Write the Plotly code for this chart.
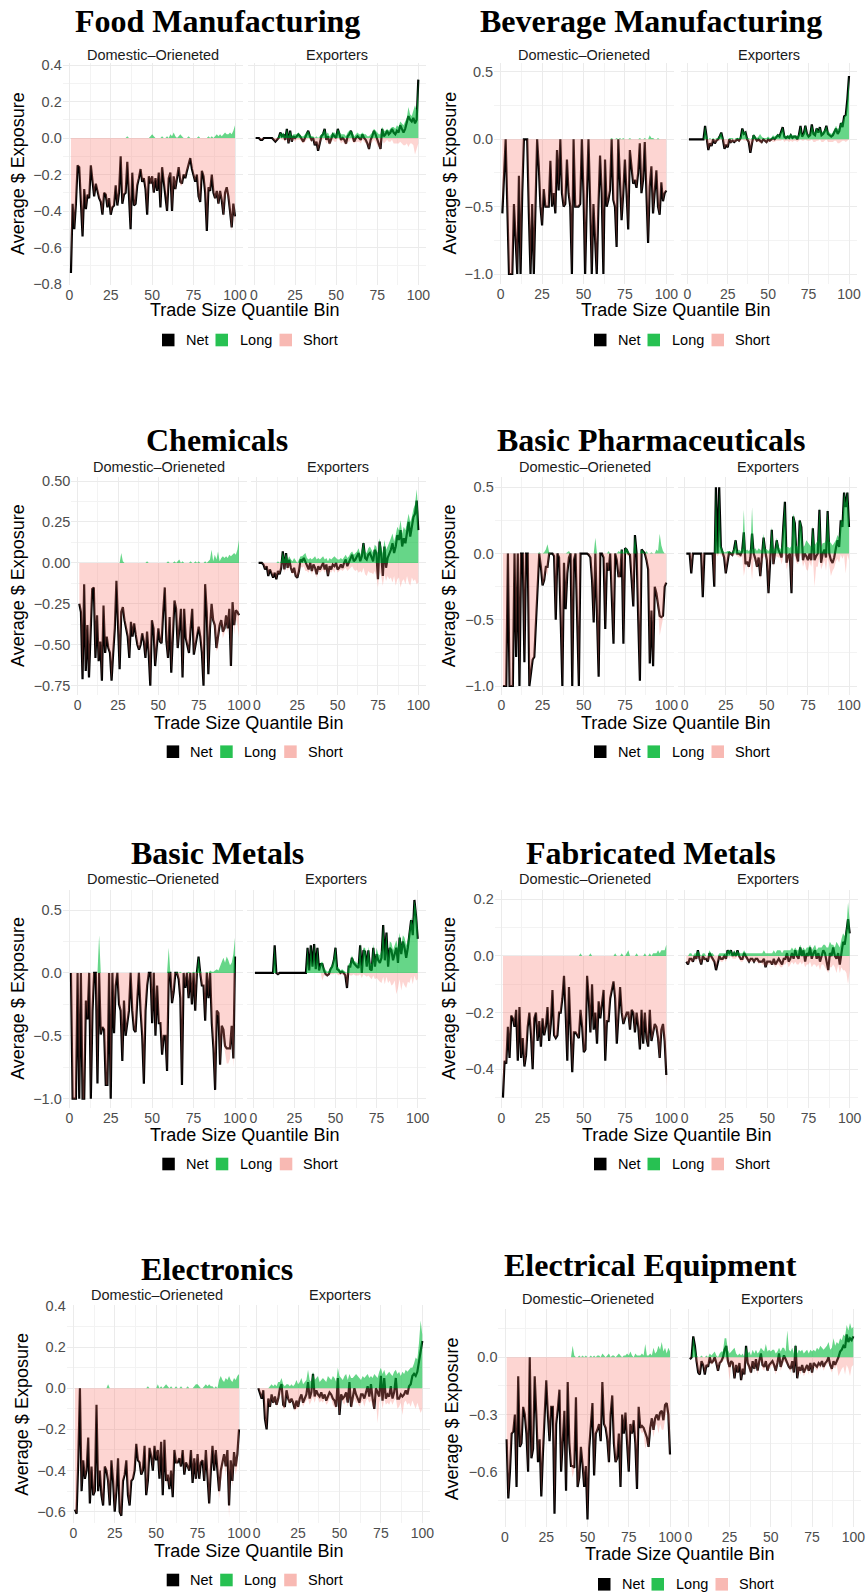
import plotly.graph_objects as go

W, H = 867, 1594
bins = list(range(1, 101))
x_ticks = [0, 25, 50, 75, 100]
panel_titles = ["Food Manufacturing", "Beverage Manufacturing", "Chemicals", "Basic Pharmaceuticals",
                "Basic Metals", "Fabricated Metals", "Electronics", "Electrical Equipment"]
facet_labels = ["Domestic\u2013Orieneted", "Exporters"]
series_names = ["Net", "Long", "Short"]
x_title = "Trade Size Quantile Bin"
y_title = "Average $ Exposure"

y_ticks = [
    [0.4, 0.2, 0.0, -0.2, -0.4, -0.6, -0.8],
    [0.5, 0.0, -0.5, -1.0],
    [0.50, 0.25, 0.00, -0.25, -0.50, -0.75],
    [0.5, 0.0, -0.5, -1.0],
    [0.5, 0.0, -0.5, -1.0],
    [0.2, 0.0, -0.2, -0.4],
    [0.4, 0.2, 0.0, -0.2, -0.4, -0.6],
    [0.0, -0.3, -0.6],
]
y_tick_fmt = [".1f", ".1f", ".2f", ".1f", ".1f", ".1f", ".1f", ".1f"]

# ---- data (values in hundredths of $ exposure) ----
food_dom_net = [-74,-36,-50,-36,-15,-16,-35,-54,-28,-39, -31,-33,-15,-22,-32,-25,-29,-33,-35,-42,
                -30,-31,-38,-33,-42,-38,-37,-26,-37,-30, -10,-36,-31,-30,-13,-33,-50,-19,-37,-36,
                -26,-22,-17,-24,-22,-28,-42,-21,-25,-21, -30,-22,-29,-19,-38,-16,-24,-30,-40,-22,
                -19,-40,-21,-28,-22,-16,-24,-25,-20,-22, -18,-15,-11,-17,-21,-24,-20,-32,-35,-18,
                -21,-30,-51,-27,-29,-20,-30,-33,-29,-36, -29,-34,-42,-30,-27,-32,-40,-49,-36,-43]
food_dom_long = [0,0,0,0,0,0,0,0,0,0, 0,0,0,0,0,0,0,0,0,0, 0,0,0,0,0,0,0,0,0,0,
                 0,0,0,0,1,0,0,0,0,0, 0,0,0,0,0,0,0,0,1,2, 1,0,0,0,0,1,0,0,1,0,
                 2,1,3,1,0,1,2,1,0,0, 0,1,0,0,0,0,0,1,0,0, 0,0,0,1,0,1,0,1,2,1,
                 2,1,2,3,2,2,3,2,4,7]
food_dom_short = [-74,-36,-50,-36,-15,-16,-35,-54,-28,-39, -31,-33,-15,-22,-32,-25,-29,-33,-35,-42,
                  -30,-31,-38,-33,-42,-38,-37,-26,-37,-30, -10,-36,-31,-30,-14,-33,-50,-19,-37,-36,
                  -26,-22,-17,-24,-22,-28,-42,-21,-26,-23, -31,-22,-29,-19,-38,-17,-24,-30,-41,-22,
                  -21,-41,-24,-29,-22,-17,-26,-26,-20,-22, -18,-16,-11,-17,-21,-24,-20,-33,-35,-18,
                  -21,-30,-51,-28,-29,-21,-30,-34,-31,-37, -31,-35,-44,-33,-30,-34,-43,-51,-40,-48]
food_exp_net = [0,0,0,-1,-1,0,0,0,0,0, 0,-1,-2,-1,0,3,1,2,-1,5, -3,4,-2,1,0,1,2,1,-1,-2,
                0,2,4,1,-1,0,-4,-2,-7,-3, 1,2,5,-1,1,-3,0,2,1,0, 5,2,-1,0,-1,-3,1,2,4,1,
                -2,0,1,0,-1,2,0,-1,-3,-6, -1,1,4,2,-1,-3,-6,5,1,2, 4,2,3,5,3,2,4,3,7,5,
                3,5,8,12,10,9,11,8,10,32]
food_exp_long = [0,0,0,0,0,0,0,0,0,0, 0,0,0,0,1,3,2,3,1,5, 1,4,1,2,2,2,3,2,1,1,
                 2,3,4,2,1,1,0,1,0,1, 2,3,5,2,3,1,2,3,3,2, 5,3,2,2,2,1,3,4,4,3,
                 1,2,3,2,2,3,2,2,1,1, 2,3,5,4,3,2,2,6,4,4, 5,4,5,6,6,5,7,6,9,8,
                 7,9,11,17,13,12,15,18,15,33]
food_exp_short = [0,0,0,-1,-1,0,0,0,0,0, 0,-1,-2,-1,-1,0,-1,-1,-2,0, -3,0,-2,-1,-2,-1,-1,-1,-2,-3,
                  -2,-1,0,-1,-2,-1,-4,-3,-7,-4, -1,-1,0,-3,-2,-4,-2,-1,-2,-2, 0,-1,-3,-2,-3,-4,-2,-2,0,-2,
                  -3,-2,-2,-2,-3,-1,-2,-3,-4,-7, -3,-2,-1,-2,-4,-5,-7,-1,-3,-2, -1,-2,-2,-1,-3,-3,-3,-3,-2,-3,
                  -4,-4,-3,-5,-3,-3,-4,-9,-6,-3]

bev_dom_net = [-55,-30,0,-50,-100,-100,-100,-48,-75,-100, -27,-100,-40,0,0,0,-55,-100,-48,-100,
               -50,0,-20,-50,-64,-37,-50,-50,-50,-16, -50,-40,-55,-8,-38,0,-40,-50,-48,-15,
               -40,-50,-100,0,-50,-50,-50,-48,0,-40, -100,-45,0,-45,-100,-48,-70,-100,-50,-12,
               -40,-100,-15,-50,-45,-38,0,-45,-50,-80, 0,-25,-60,-40,-15,-40,-67,-8,-20,-33,
               -30,-36,-25,-3,-40,-30,-2,-40,-77,-35, -20,-55,-40,-23,-50,-56,-32,-46,-40,-38]
bev_dom_long = [0,0,0,0,0,0,0,0,0,0, 0,0,0,0,0,0,0,0,0,0, 0,0,0,0,0,0,0,0,0,0,
                0,0,0,0,0,0,0,0,0,0, 0,0,0,0,0,0,0,0,0,0, 0,0,0,0,0,0,0,0,0,0,
                0,0,0,0,0,0,1,0,0,1, 0,1,0,1,0,0,0,1,0,0, 0,0,0,1,0,0,1,0,0,3,
                1,1,0,0,1,0,0,0,0,0]
bev_dom_short = [-55,-30,0,-50,-100,-100,-100,-48,-75,-100, -27,-100,-40,0,0,0,-55,-100,-48,-100,
                 -50,0,-20,-50,-64,-37,-50,-50,-50,-16, -50,-40,-55,-8,-38,0,-40,-50,-48,-15,
                 -40,-50,-100,0,-50,-50,-50,-48,0,-40, -100,-45,0,-45,-100,-48,-70,-100,-50,-12,
                 -40,-100,-15,-50,-45,-38,-1,-45,-50,-81, 0,-26,-60,-41,-15,-40,-67,-9,-20,-33,
                 -30,-36,-25,-4,-40,-30,-3,-40,-77,-38, -21,-56,-40,-23,-51,-56,-32,-46,-40,-38]
bev_exp_net = [0,0,0,0,0,0,0,0,0,0, 10,2,-8,-3,-5,0,-3,-1,0,2, 5,0,-7,-4,-6,0,-2,-1,-2,-1,
               0,-1,1,8,4,5,0,-2,-10,-3, 3,1,-1,0,-1,-2,0,-1,-2,0, -1,0,1,0,2,3,2,5,9,2,
               1,2,1,3,1,2,2,0,3,10, 2,4,10,4,2,3,11,4,3,8, 5,9,3,4,6,10,4,3,2,3,
               5,8,4,6,12,9,17,18,30,47]
bev_exp_long = [0,0,0,0,0,0,0,0,0,0, 10,3,0,1,0,1,0,1,1,3, 5,1,0,0,0,1,1,1,0,1,
                1,1,2,8,5,6,1,1,0,1, 4,2,1,2,4,2,1,1,1,2, 1,1,3,2,3,4,3,6,9,4,
                2,3,3,4,3,3,3,2,4,10, 3,5,11,5,3,4,11,6,5,9, 6,9,5,6,7,10,6,5,4,5,
                7,10,7,9,13,12,17,18,30,47]
bev_exp_short = [0,0,0,0,0,0,0,0,0,0, 0,-1,-8,-4,-5,-1,-3,-2,-1,-1, 0,-1,-7,-4,-6,-1,-3,-2,-2,-2,
                 -1,-2,-1,0,-1,-1,-1,-3,-10,-4, -1,-1,-2,-2,-3,-3,-1,-2,-3,-2, -2,-1,-2,-2,-1,-1,-1,-1,0,-2,
                 -1,-1,-2,-1,-2,-1,-1,-2,-1,0, -1,-1,0,-1,-1,-1,0,-2,-2,-1, -1,0,-2,-2,-1,0,-2,-2,-2,-2,
                 -1,-1,-3,-3,-2,-1,-1,-2,-1,0]

chem_dom_net = [-25,-30,-71,-13,-66,-38,-70,-35,-16,-15, -58,-32,-60,-48,-72,-26,-55,-45,-52,-55,
                -72,-55,-40,-11,-40,-65,-30,-27,-35,-40, -45,-58,-36,-45,-37,-44,-50,-53,-50,-43,
                -48,-58,-42,-55,-75,-35,-40,-63,-50,-40, -48,-49,-30,-15,-48,-58,-33,-67,-45,-23,
                -28,-52,-40,-28,-70,-28,-46,-50,-55,-40, -28,-56,-50,-43,-39,-45,-55,-75,-13,-30,
                -68,-40,-25,-35,-38,-52,-45,-38,-35,-42, -40,-32,-40,-28,-63,-24,-38,-29,-30,-32]
chem_dom_long = [0,0,0,0,0,0,0,0,0,0, 0,0,0,0,0,0,0,0,0,0, 0,0,0,0,0,0,6,1,0,0,
                 0,0,0,0,0,0,0,0,0,0, 0,0,1,0,0,0,0,0,0,0, 0,0,0,0,0,1,0,0,0,1,
                 0,1,2,0,1,0,0,0,0,1, 0,0,1,0,1,0,0,0,1,0, 1,2,8,1,5,2,7,1,3,4,
                 3,4,3,5,4,5,6,5,8,14]
chem_dom_short = [-25,-30,-71,-13,-66,-38,-70,-35,-16,-15, -58,-32,-60,-48,-72,-26,-55,-45,-52,-55,
                  -72,-55,-40,-11,-40,-65,-36,-28,-35,-40, -45,-58,-36,-45,-37,-44,-50,-53,-50,-43,
                  -48,-58,-43,-55,-75,-35,-40,-63,-50,-40, -48,-49,-30,-15,-48,-59,-33,-67,-45,-24,
                  -28,-53,-42,-28,-71,-28,-46,-50,-55,-41, -28,-56,-51,-43,-40,-45,-55,-75,-14,-30,
                  -69,-42,-33,-36,-43,-54,-52,-39,-38,-46, -43,-36,-43,-33,-67,-29,-44,-34,-38,-46]
chem_exp_net = [0,0,0,-1,-4,-2,-8,-4,-6,-9, -6,-10,-5,-7,-3,7,-4,6,-3,2, -3,-6,-3,-8,-9,-5,2,1,3,1,
                -2,-4,0,-5,-1,-3,-7,-2,-4,-2, 0,-4,-1,-8,-2,-4,-1,-2,0,-4, -3,-1,-3,0,2,-2,0,3,5,1,
                2,4,6,1,4,12,3,2,5,6, 4,1,8,6,-10,13,5,-8,10,-3, 3,5,8,12,6,10,17,14,20,10,
                15,12,20,25,16,22,28,30,38,20]
chem_exp_long = [0,0,0,0,0,0,0,0,0,0, 0,0,1,0,1,7,2,6,2,4, 2,1,3,1,0,2,4,4,5,6,
                 3,2,3,2,3,4,2,3,2,3, 4,2,3,1,3,2,3,4,3,2, 2,3,2,4,5,3,4,6,7,5,
                 6,7,9,5,8,13,7,6,9,10, 8,6,11,10,5,15,10,6,14,8, 10,12,15,18,13,17,22,20,26,18,
                 22,20,26,30,25,28,33,36,45,30]
chem_exp_short = [0,0,0,-1,-4,-2,-8,-4,-6,-9, -6,-10,-6,-7,-4,0,-6,0,-5,-2, -5,-7,-6,-9,-9,-7,-2,-3,-2,-5,
                  -5,-6,-3,-7,-4,-7,-9,-5,-6,-5, -4,-6,-4,-9,-5,-6,-4,-6,-3,-6, -5,-4,-5,-4,-3,-5,-4,-3,-2,-4,
                  -5,-4,-6,-5,-6,-3,-7,-8,-5,-6, -6,-7,-5,-8,-15,-5,-8,-14,-7,-11, -8,-10,-9,-12,-8,-14,-10,-9,-15,-11,
                  -10,-13,-8,-12,-14,-9,-11,-10,-13,-12]

pharma_dom_net = [-100,-100,-100,0,-100,-100,-100,0,-78,0, -100,0,0,-82,0,0,-100,-90,-80,-78,
                  -50,-25,0,-10,-24,-20,-10,-10,0,0, 0,-2,-50,0,-3,-50,-100,-7,-42,-15,
                  -3,0,-100,-5,0,-50,-100,0,0,0, 0,0,-1,-3,-20,-52,0,-45,-93,0,
                  0,-3,-57,-7,-13,0,-35,-68,0,-5, -17,-17,3,-68,4,3,0,-1,-20,-40,
                  14,0,-50,-96,3,1,0,-5,-12,-83, -43,-85,-25,-30,-40,-47,-48,-47,-25,-22]
pharma_dom_long = [0,0,0,0,0,0,0,0,0,0, 0,0,0,0,0,0,0,0,0,0, 0,0,1,0,0,1,3,7,1,0,
                   0,0,0,0,0,0,0,0,0,1, 2,0,0,0,0,0,0,0,0,0, 0,0,0,0,0,0,12,0,0,0,
                   0,0,0,0,2,0,0,0,0,0, 2,1,3,0,4,4,2,0,0,0, 14,0,0,0,3,2,0,2,0,0,
                   1,0,0,3,2,15,6,2,0,0]
pharma_dom_short = [-100,-100,-100,0,-100,-100,-100,0,-78,0, -100,0,0,-82,0,0,-100,-90,-80,-78,
                    -50,-25,-1,-10,-24,-21,-13,-17,-1,0, 0,-2,-50,0,-3,-50,-100,-7,-42,-16,
                    -5,0,-100,-5,0,-50,-100,0,0,0, 0,0,-1,-3,-20,-52,-12,-45,-93,0,
                    0,-3,-57,-7,-15,0,-35,-68,0,-5, -19,-18,0,-68,0,-1,-2,-1,-20,-40,
                    0,0,-50,-96,0,-1,0,-7,-12,-83, -43,-85,-25,-33,-42,-62,-54,-49,-25,-22]
pharma_exp_net = [0,0,0,-15,0,0,0,0,0,0, -33,0,0,0,0,0,0,-25,50,0, 50,5,1,-3,-15,-5,1,0,-1,3,
                  10,0,0,-1,2,16,-8,-6,-10,-3, 15,0,-4,-10,-3,-17,-5,12,2,-5, -30,-2,18,-8,0,10,3,0,-3,20,
                  39,-7,-2,0,-30,28,23,-1,-6,25, 20,-5,0,-2,-5,0,-5,19,-5,-2, 0,33,-7,0,3,-3,32,0,-5,-7,
                  -3,4,10,5,25,20,46,35,46,20]
pharma_exp_long = [0,0,0,0,0,0,0,0,0,0, 0,0,0,0,0,0,0,0,50,2, 50,6,3,1,1,2,2,1,1,4,
                   11,2,3,2,4,33,2,3,2,3, 35,3,4,2,4,3,2,15,4,3, 2,4,20,4,3,12,6,3,5,22,
                   40,5,5,4,6,30,25,6,5,26, 22,5,6,10,8,6,5,21,6,8, 10,35,5,8,8,10,34,9,8,6,
                   8,10,14,12,26,24,47,38,47,25]
pharma_exp_short = [0,0,0,-15,0,0,0,0,0,0, -33,0,0,0,0,0,0,-25,0,-2, 0,-1,-2,-4,-16,-7,-1,-1,-2,-1,
                    -1,-2,-3,-3,-2,-17,-10,-8,-12,-6, -20,-3,-8,-12,-7,-20,-7,-3,-2,-8, -32,-6,-2,-10,-3,-2,-3,-3,-8,-2,
                    -1,-12,-7,-4,-31,-2,-2,-7,-8,-1, -2,-10,-6,-12,-13,-6,-10,-2,-25,-10, -10,-2,-12,-8,-5,-13,-2,-9,-17,-13,
                    -11,-6,-4,-7,-1,-4,-1,-15,-1,-5]

bm_dom_net = [0,-100,-100,-100,0,-100,0,-100,-100,-22, -37,0,-100,-30,0,0,-88,0,-49,-43,
              -45,-89,-89,0,-100,0,-48,-10,0,-25, -30,-70,-22,-50,-40,-30,0,-30,-45,-47,
              -22,0,-30,-50,-88,-30,-10,0,0,-40, 0,-50,-10,-40,-40,-65,-50,-50,-78,0,
              0,-24,-15,0,0,-5,-20,-89,0,-12, 0,-20,0,-25,0,-30,0,13,0,-10,
              -10,-38,0,-20,0,-40,-60,-93,-30,-32, -73,-42,-45,-58,-60,-60,-60,-42,-68,13]
bm_dom_long = [0,0,0,0,0,0,0,0,0,0, 0,0,0,0,0,0,0,30,0,0, 0,0,0,0,0,0,0,0,0,0,
               0,0,0,0,0,0,0,0,0,0, 0,0,0,0,0,0,0,0,0,0, 0,0,0,0,0,0,0,0,0,20,
               0,0,0,0,1,0,1,0,0,0, 0,1,0,0,1,0,1,13,2,0, 0,0,1,0,2,1,1,2,3,2,
               5,8,12,8,13,10,6,8,15,28]
bm_dom_short = [0,-100,-100,-100,0,-100,0,-100,-100,-22, -37,0,-100,-30,0,0,-88,0,-49,-43,
                -45,-89,-89,0,-100,0,-48,-10,0,-25, -30,-70,-22,-50,-40,-30,0,-30,-45,-47,
                -22,0,-30,-50,-88,-30,-10,0,0,-40, 0,-50,-10,-40,-40,-65,-50,-50,-78,-5,
                0,-24,-15,0,-1,-5,-21,-89,0,-12, 0,-21,0,-25,-1,-30,-1,0,-2,-10,
                -10,-38,-1,-20,-2,-41,-61,-95,-33,-34, -75,-48,-55,-65,-72,-72,-68,-50,-75,-15]
bm_exp_net = [0,0,0,0,0,0,0,0,0,0, 0,0,22,0,-1,0,0,0,0,0, 0,0,0,0,0,0,0,0,0,0,
              0,0,20,2,22,5,23,3,20,2, 7,7,2,-1,-2,-1,3,5,10,20, 3,2,0,1,0,-2,-12,5,5,12,
              8,6,5,4,22,0,18,17,5,18, 3,2,20,5,15,10,8,12,38,10, 32,5,20,18,10,15,20,8,28,15,
              25,20,12,20,30,42,30,58,45,27]
bm_exp_long = [0,0,0,0,0,0,0,0,0,0, 0,0,22,0,0,0,0,0,0,0, 0,0,0,0,0,0,0,0,0,0,
               0,0,21,3,23,6,24,5,21,4, 8,9,4,2,1,2,5,7,12,21, 5,4,2,3,2,1,0,7,8,14,
               10,9,8,7,24,5,20,20,9,21, 8,7,23,10,20,15,14,18,39,16, 33,12,25,24,18,22,26,20,32,22,
               30,28,22,26,36,44,38,58,50,35]
bm_exp_short = [0,0,0,0,0,0,0,0,0,0, 0,0,0,0,-1,0,0,0,0,0, 0,0,0,0,0,0,0,0,0,0,
                0,0,0,0,0,0,0,0,0,0, 0,-6,-2,-2,-3,-2,-1,-1,-1,0, -1,-2,-1,-1,-2,-3,-12,-1,-2,-2,
                -1,-2,-2,-2,-1,-4,-1,-2,-3,-2, -4,-5,-2,-5,-4,-6,-7,-8,-3,-9, -3,-8,-6,-10,-9,-6,-17,-12,-5,-14,
                -7,-10,-12,-7,-8,-3,-9,-2,-6,-5]

fm_dom_net = [-50,-37,-38,-25,-36,-21,-22,-25,-19,-37, -18,-36,-29,-39,-35,-25,-20,-28,-40,-22,
              -20,-30,-23,-32,-22,-28,-25,-18,-30,-24, -12,-28,-29,-28,-20,-20,-15,-7,-20,-37,
              -11,-25,-41,-27,-27,-28,-29,-19,-25,-34, -33,-7,-15,-27,-10,-26,-20,-31,-16,-22,
              -17,-12,-37,-23,-23,-15,-12,-9,-15,-31, -21,-11,-20,-24,-22,-20,-20,-26,-19,-20,
              -27,-20,-25,-33,-19,-31,-20,-29,-32,-19, -30,-27,-24,-25,-29,-36,-26,-24,-30,-42]
fm_dom_long = [0,0,0,0,0,0,0,0,0,0, 0,0,0,0,0,0,0,0,0,0, 0,0,0,0,0,0,0,0,0,0,
               0,0,0,0,0,0,0,0,0,0, 0,0,0,0,0,0,0,1,0,0, 0,0,0,1,0,0,0,0,0,0,
               0,0,0,0,0,0,0,0,1,0, 0,0,1,0,0,1,2,0,0,0, 0,1,0,0,0,0,1,0,0,1,
               0,1,1,1,2,1,2,2,2,4]
fm_dom_short = [-50,-37,-38,-25,-36,-21,-22,-25,-19,-37, -18,-36,-29,-39,-35,-25,-20,-28,-40,-22,
                -20,-30,-23,-32,-22,-28,-25,-18,-30,-24, -12,-28,-29,-28,-20,-20,-15,-7,-20,-37,
                -11,-25,-41,-27,-27,-28,-29,-20,-25,-34, -33,-7,-15,-28,-10,-26,-20,-31,-16,-22,
                -17,-12,-37,-23,-23,-15,-12,-9,-16,-31, -21,-11,-21,-24,-22,-21,-22,-26,-19,-20,
                -27,-21,-25,-33,-19,-31,-21,-29,-32,-20, -30,-28,-25,-26,-31,-37,-28,-26,-32,-46]
fm_exp_net = [-2,-3,-1,-1,-2,0,-1,2,-1,-3, 0,-1,-1,-2,1,0,-1,-2,-5,-2, 0,-1,-1,0,-1,2,1,2,0,1,
              0,2,0,-1,-1,1,0,-1,-2,-1, -1,-2,-1,-1,-2,-2,-2,-1,-4,-2, -2,-2,-3,-1,-3,-2,-1,-2,-3,-1,
              -1,1,-2,-1,1,-1,2,0,-1,3, 0,2,-2,1,0,3,-1,1,2,-1, 1,-2,0,2,1,-2,-5,1,0,3,
              0,-1,1,-3,2,5,4,8,13,8]
fm_exp_long = [0,0,1,1,0,1,1,2,1,0, 1,1,0,0,2,1,1,0,0,0, 1,1,1,1,1,2,2,2,1,2,
               1,2,1,1,1,2,1,1,1,1, 1,1,1,1,1,1,1,2,1,1, 1,1,1,2,1,2,2,2,1,2,
               2,2,2,2,3,2,3,2,2,4, 2,3,2,3,3,4,2,3,4,2, 3,3,3,4,4,3,3,5,4,4,
               3,5,4,3,6,8,7,10,19,12]
fm_exp_short = [-2,-3,-2,-2,-2,-1,-2,0,-2,-3, -1,-2,-1,-2,-1,-1,-2,-2,-5,-2, -1,-2,-2,-1,-2,0,-1,0,-1,-1,
                -1,0,-1,-2,-2,-1,-1,-2,-2,-2, -2,-2,-2,-2,-3,-2,-3,-3,-4,-3, -3,-3,-3,-3,-4,-3,-3,-4,-4,-3,
                -3,-2,-4,-3,-2,-3,-2,-3,-3,-2, -3,-2,-4,-3,-3,-2,-4,-3,-3,-4, -3,-5,-3,-3,-4,-5,-6,-4,-4,-3,
                -4,-6,-3,-6,-4,-5,-5,-6,-10,-5]

elec_dom_net = [-59,-61,-35,0,-50,-35,-44,-40,-24,-56, -38,-52,-50,-8,-50,-40,-52,-57,-38,-40,
                -45,-57,-35,-45,-60,-50,-34,-60,-62,-45, -42,-35,-52,-57,-45,-44,-40,-27,-35,-36,
                -42,-40,-28,-52,-45,-29,-33,-40,-28,-35, -30,-44,-26,-52,-25,-45,-42,-49,-40,-53,
                -30,-36,-36,-34,-38,-30,-42,-36,-38,-40, -30,-46,-34,-44,-32,-44,-36,-35,-45,-30,
                -43,-56,-40,-28,-40,-30,-40,-50,-40,-36, -32,-38,-30,-57,-35,-45,-31,-38,-32,-20]
elec_dom_long = [0,0,0,0,0,0,0,0,0,0, 0,0,0,0,0,0,0,0,0,0, 2,0,0,0,0,0,0,0,0,0,
                 0,0,0,0,0,0,0,0,0,0, 0,0,0,0,1,0,0,0,0,0, 2,0,1,0,1,2,1,0,1,0,
                 0,1,0,0,1,0,0,0,1,0, 0,0,1,2,2,1,0,0,1,2, 1,2,1,1,0,1,0,4,6,4,
                 3,5,4,6,4,3,5,4,6,7]
elec_dom_short = [-59,-61,-35,0,-50,-35,-44,-40,-24,-56, -38,-52,-50,-8,-50,-40,-52,-57,-38,-40,
                  -47,-57,-35,-45,-60,-50,-34,-60,-62,-45, -42,-35,-52,-57,-45,-44,-40,-27,-35,-36,
                  -42,-40,-28,-52,-46,-29,-33,-40,-28,-35, -32,-44,-27,-52,-26,-47,-43,-49,-41,-53,
                  -30,-37,-36,-34,-39,-30,-42,-36,-39,-40, -30,-46,-35,-46,-34,-45,-36,-35,-46,-32,
                  -44,-58,-41,-29,-40,-31,-40,-54,-46,-40, -35,-43,-34,-63,-39,-48,-36,-42,-38,-27]
elec_exp_net = [0,-3,-5,-1,-15,-20,-5,-9,-3,-7, -4,-8,-5,0,2,-8,-9,-1,-5,-7, -5,-7,-10,-6,-9,-5,-3,-7,-5,-3,
                3,-5,-2,7,-4,-1,-3,-4,-2,-5, -3,-6,-4,-2,-3,-5,-6,-9,5,-13, -3,-5,-4,-2,-7,3,-9,-5,0,-3,
                -5,-7,-3,-3,-5,-2,1,-4,2,-5, -10,0,-2,-4,6,-6,5,-5,-3,-4, 1,-5,-2,5,-5,-5,-3,-4,-3,-1,
                -3,1,2,6,7,6,8,13,19,23]
elec_exp_long = [0,0,0,0,0,0,0,1,2,1, 2,1,3,3,5,2,1,2,2,1, 2,1,2,4,2,3,5,2,3,4,
                 9,4,3,8,4,5,6,3,4,5, 4,3,6,5,4,6,5,3,10,6, 5,4,6,7,4,7,5,5,6,7,
                 6,5,4,6,5,6,7,5,6,5, 7,6,5,8,10,7,9,6,7,8, 7,6,8,9,7,8,6,8,7,9,
                 8,9,10,10,12,15,14,22,33,26]
elec_exp_short = [0,-3,-5,-1,-15,-20,-6,-10,-5,-8, -6,-9,-7,-3,-4,-10,-10,-3,-7,-8, -6,-8,-11,-10,-10,-7,-6,-9,-7,-6,
                  -5,-8,-6,-4,-7,-4,-5,-7,-6,-7, -5,-8,-7,-5,-5,-8,-9,-10,-6,-14, -5,-7,-8,-5,-9,-4,-10,-8,-5,-7,
                  -7,-9,-7,-6,-9,-6,-5,-7,-6,-9, -11,-5,-17,-7,-4,-10,-5,-8,-7,-8, -6,-8,-6,-5,-10,-9,-7,-13,-7,-6,
                  -8,-7,-9,-6,-8,-10,-7,-10,-12,-10]

ee_dom_net = [-43,-74,-60,-40,-39,-30,-68,-10,-47,-45, -26,-30,-40,-60,0,-53,-48,-10,-30,-55,
              -43,-73,-50,-30,-12,-30,-44,-26,-26,-82, -35,-27,-17,-60,-40,-28,-70,-13,-45,-57,
              -57,-58,-21,-68,-63,-47,-56,-68,-57,-85, -48,-35,-24,-62,-40,-38,-35,-44,-13,-35,
              -37,-43,-55,-30,-20,-45,-55,-53,-40,-68, -30,-40,-29,-45,-60,-35,-40,-33,-45,-69,
              -26,-37,-36,-37,-40,-42,-47,-37,-32,-38, -32,-30,-33,-29,-28,-33,-25,-24,-30,-51]
ee_dom_long = [0,0,0,0,0,0,0,0,0,0, 0,0,0,0,0,0,0,0,0,0, 0,0,0,0,0,0,0,0,0,0,
               0,0,0,0,0,0,0,0,0,0, 6,1,0,0,1,0,1,0,1,0, 0,1,0,1,0,1,1,0,2,1,
               0,1,2,0,1,1,0,1,2,1, 0,1,1,2,1,3,1,0,2,1, 1,1,2,1,7,1,1,2,1,5,
               2,3,6,4,8,3,5,2,5,3]
ee_dom_short = [-43,-74,-60,-40,-39,-30,-68,-10,-47,-45, -26,-30,-40,-60,0,-53,-48,-10,-30,-55,
                -43,-73,-50,-30,-12,-30,-44,-26,-26,-82, -35,-27,-17,-60,-40,-28,-70,-13,-45,-57,
                -63,-59,-21,-68,-64,-47,-57,-68,-58,-85, -48,-36,-24,-63,-40,-39,-36,-44,-15,-36,
                -37,-44,-57,-30,-21,-46,-55,-54,-42,-69, -30,-41,-30,-47,-61,-38,-41,-33,-47,-70,
                -28,-38,-40,-39,-48,-45,-48,-40,-36,-42, -36,-35,-40,-35,-38,-38,-33,-28,-35,-54]
ee_exp_net = [-1,0,11,6,-2,-8,-9,-2,-4,-9, -4,-5,0,-3,-2,0,-3,-7,-3,-2, 0,4,6,-2,-5,-2,-3,-11,-4,-8,
              -3,-12,-6,-9,6,-3,-5,-8,-2,-6, -1,-7,-2,2,-4,-5,-2,-7,-4,-3, -2,-4,-7,-3,2,-5,-2,1,-1,-3,
              -5,-6,-2,-8,6,-11,-5,-7,-4,-8, -6,-4,-7,-3,-8,-3,-4,-5,-3,-4, -2,-5,-3,-2,0,-4,-6,-2,-4,-2,
              0,3,4,6,5,12,8,10,9,11]
ee_exp_long = [0,0,11,6,1,0,0,1,0,0, 1,0,2,1,2,3,1,0,2,3, 3,10,10,4,2,3,4,5,2,1,
               2,1,2,0,6,2,3,1,4,2, 4,2,3,5,4,3,7,3,4,3, 4,4,2,3,5,3,5,5,3,14,
               4,3,5,2,7,2,4,3,4,2, 3,4,2,4,3,4,3,5,4,6, 5,4,5,6,8,4,5,10,6,8,
               7,10,9,12,11,17,14,18,15,16]
ee_exp_short = [-1,0,0,0,-3,-8,-9,-3,-4,-9, -5,-5,-2,-4,-3,-2,-4,-8,-4,-3, -2,-1,-1,-4,-12,-4,-5,-12,-5,-9,
                -4,-13,-7,-10,-1,-5,-7,-9,-4,-8, -3,-9,-4,-2,-6,-7,-4,-8,-6,-5, -4,-6,-9,-5,-2,-7,-4,-2,-3,-4,
                -6,-8,-4,-10,-1,-12,-7,-9,-6,-10, -8,-6,-9,-5,-10,-5,-6,-7,-5,-6, -4,-7,-5,-4,-3,-6,-8,-5,-6,-4,
                -10,-8,-6,-5,-9,-4,-6,-10,-5,-4]

panel_data = [
    [(food_dom_net, food_dom_long, food_dom_short), (food_exp_net, food_exp_long, food_exp_short)],
    [(bev_dom_net, bev_dom_long, bev_dom_short), (bev_exp_net, bev_exp_long, bev_exp_short)],
    [(chem_dom_net, chem_dom_long, chem_dom_short), (chem_exp_net, chem_exp_long, chem_exp_short)],
    [(pharma_dom_net, pharma_dom_long, pharma_dom_short), (pharma_exp_net, pharma_exp_long, pharma_exp_short)],
    [(bm_dom_net, bm_dom_long, bm_dom_short), (bm_exp_net, bm_exp_long, bm_exp_short)],
    [(fm_dom_net, fm_dom_long, fm_dom_short), (fm_exp_net, fm_exp_long, fm_exp_short)],
    [(elec_dom_net, elec_dom_long, elec_dom_short), (elec_exp_net, elec_exp_long, elec_exp_short)],
    [(ee_dom_net, ee_dom_long, ee_dom_short), (ee_exp_net, ee_exp_long, ee_exp_short)],
]
for pd_ in panel_data:
    for trio in pd_:
        for s in trio:
            assert len(s) == 100, len(s)

# ---- layout geometry (pixels) ----
G = [
    dict(cx=217, lx0=69.3, lx100=235, rx0=254, rx100=418.3, top=63, bot=285, yv=(0.4, -0.8), yp=(65, 284),
         title=20, strip=55, xt=310, leg=340, legx=162, ytx=18),
    dict(cx=650.5, lx0=500.7, lx100=666.3, rx0=687.3, rx100=849, top=63, bot=284, yv=(0.0, -1.0), yp=(139.3, 274),
         title=20, strip=55, xt=310, leg=340, legx=594, ytx=449),
    dict(cx=217, lx0=77.7, lx100=239, rx0=257, rx100=418.3, top=477, bot=695, yv=(0.5, -0.75), yp=(481, 685.7),
         title=439, strip=466.7, xt=722.7, leg=751.7, legx=166.7, ytx=18),
    dict(cx=650.5, lx0=501.3, lx100=666.3, rx0=684.7, rx100=849, top=477.3, bot=695, yv=(0.5, -1.0), yp=(487.3, 686),
         title=439, strip=466.7, xt=722.7, leg=751.7, legx=594, ytx=449),
    dict(cx=217, lx0=69.3, lx100=235, rx0=253.3, rx100=417.7, top=890, bot=1107.7, yv=(0.5, -1.0), yp=(910, 1098.7),
         title=851.7, strip=879, xt=1135, leg=1164, legx=162.3, ytx=18),
    dict(cx=650.5, lx0=501.3, lx100=666.3, rx0=684.7, rx100=849.7, top=890, bot=1107.7, yv=(0.2, -0.4), yp=(899.3, 1069.3),
         title=851.7, strip=879, xt=1135, leg=1164, legx=594, ytx=449),
    dict(cx=217, lx0=73.3, lx100=239, rx0=256.7, rx100=422.3, top=1305, bot=1523.3, yv=(0.4, -0.6), yp=(1306, 1511.7),
         title=1268.3, strip=1295, xt=1551, leg=1580, legx=166.7, ytx=21.7),
    dict(cx=650.5, lx0=505, lx100=670, rx0=688.3, rx100=853.3, top=1309.3, bot=1527.3, yv=(0.0, -0.6), yp=(1357.3, 1471.7),
         title=1264.3, strip=1299, xt=1554.3, leg=1584.3, legx=598, ytx=452),
]

NET_COLOR = "black"
LONG_FILL = "rgba(0,186,56,0.60)"
SHORT_FILL = "rgba(248,118,109,0.31)"
KEY_COLORS = ["#000000", "#27C152", "#F8B9B3"]
GRID = "#EBEBEB"
GRID_MINOR = "#F3F3F3"
SANS = "Liberation Sans, Arial, sans-serif"
SERIF = "Liberation Serif, Times New Roman, serif"
XMIN, XMAX = -3.95, 104.95


def px(x):
    return x / W


def py(y):
    return 1 - y / H


fig = go.Figure()
layout = {}
annotations = []
shapes = []

for p, g in enumerate(G):
    (v1, v2), (p1, p2) = g["yv"], g["yp"]
    scale = (p2 - p1) / (v1 - v2)
    ytop = v1 + (p1 - g["top"]) / scale
    ybot = v1 - (g["bot"] - p1) / scale
    ydom = [py(g["bot"]), py(g["top"])]
    ticks = y_ticks[p]
    ystep = abs(ticks[0] - ticks[1])
    facet_px = []
    for f in range(2):
        k = 2 * p + f + 1
        x0, x100 = (g["lx0"], g["lx100"]) if f == 0 else (g["rx0"], g["rx100"])
        s = (x100 - x0) / 100
        left, right = x0 + XMIN * s, x0 + XMAX * s
        facet_px.append((left, right))
        xa = "xaxis" if k == 1 else f"xaxis{k}"
        ya = "yaxis" if k == 1 else f"yaxis{k}"
        xr = "x" if k == 1 else f"x{k}"
        yr = "y" if k == 1 else f"y{k}"
        layout[xa] = dict(domain=[px(left), px(right)], range=[XMIN, XMAX], anchor=yr, automargin=False,
                          tickvals=x_ticks, ticks="", showline=False, zeroline=False,
                          showgrid=True, gridcolor=GRID, gridwidth=1.1,
                          minor=dict(tickmode="linear", tick0=0, dtick=12.5, showgrid=True,
                                     gridcolor=GRID_MINOR, gridwidth=0.7),
                          tickfont=dict(family=SANS, size=14, color="#4D4D4D"))
        layout[ya] = dict(domain=ydom, range=[ybot, ytop], anchor=xr, automargin=False,
                          tickvals=ticks, tickformat=y_tick_fmt[p], ticks="",
                          showticklabels=(f == 0), showline=False, zeroline=False,
                          showgrid=True, gridcolor=GRID, gridwidth=1.1,
                          minor=dict(tickmode="linear", tick0=ticks[0] + ystep / 2, dtick=ystep,
                                     showgrid=True, gridcolor=GRID_MINOR, gridwidth=0.7),
                          tickfont=dict(family=SANS, size=14.5, color="#4D4D4D"))
        net, lng, sht = panel_data[p][f]
        fig.add_trace(go.Scatter(x=bins, y=[v / 100 for v in net], mode="lines", name=series_names[0],
                                 line=dict(color=NET_COLOR, width=2.2), xaxis=xr, yaxis=yr,
                                 showlegend=False, hoverinfo="skip"))
        fig.add_trace(go.Scatter(x=bins, y=[v / 100 for v in lng], mode="lines", name=series_names[1],
                                 line=dict(width=0, color=LONG_FILL), fill="tozeroy", fillcolor=LONG_FILL,
                                 xaxis=xr, yaxis=yr, showlegend=False, hoverinfo="skip"))
        fig.add_trace(go.Scatter(x=bins, y=[v / 100 for v in sht], mode="lines", name=series_names[2],
                                 line=dict(width=0, color=SHORT_FILL), fill="tozeroy", fillcolor=SHORT_FILL,
                                 xaxis=xr, yaxis=yr, showlegend=False, hoverinfo="skip"))
        # strip label
        annotations.append(dict(text=facet_labels[f], x=px((left + right) / 2), y=py(g["strip"]),
                                xref="paper", yref="paper", showarrow=False, xanchor="center", yanchor="middle",
                                font=dict(family=SANS, size=14.5, color="#1A1A1A")))
    # title
    annotations.append(dict(text="<b>" + panel_titles[p] + "</b>", x=px(g["cx"]), y=py(g["title"] + 1),
                            xref="paper", yref="paper", showarrow=False, xanchor="center", yanchor="middle",
                            font=dict(family=SERIF, size=32, color="black")))
    # axis titles
    xc = (facet_px[0][0] + facet_px[1][1]) / 2
    annotations.append(dict(text=x_title, x=px(xc), y=py(g["xt"]), xref="paper", yref="paper",
                            showarrow=False, xanchor="center", yanchor="middle",
                            font=dict(family=SANS, size=18, color="black")))
    annotations.append(dict(text=y_title, x=px(g["ytx"]), y=py((g["top"] + g["bot"]) / 2), xref="paper",
                            yref="paper", showarrow=False, xanchor="center", yanchor="middle", textangle=-90,
                            font=dict(family=SANS, size=18, color="black")))
    # legend keys
    key_off = [0, 53.5, 117.5]
    txt_off = [21.5, 75.5, 139]
    for i in range(3):
        kx = g["legx"] + key_off[i]
        shapes.append(dict(type="rect", xref="paper", yref="paper",
                           x0=px(kx), x1=px(kx + 12.5), y0=py(g["leg"] + 6.3), y1=py(g["leg"] - 6.3),
                           fillcolor=KEY_COLORS[i], line=dict(width=0)))
        annotations.append(dict(text=series_names[i], x=px(g["legx"] + txt_off[i]), y=py(g["leg"]),
                                xref="paper", yref="paper", showarrow=False, xanchor="left", yanchor="middle",
                                font=dict(family=SANS, size=14.5, color="black")))

fig.update_layout(width=W, height=H, margin=dict(l=0, r=0, t=0, b=0), autosize=False,
                  paper_bgcolor="white", plot_bgcolor="white", showlegend=False,
                  annotations=annotations, shapes=shapes, **layout)

# remove the default page margin so the 867x1594 figure fills the window exactly
fig.write_html("out.html", config={"displayModeBar": False},
               post_script="document.body.style.margin='0';document.body.style.overflow='hidden';")
